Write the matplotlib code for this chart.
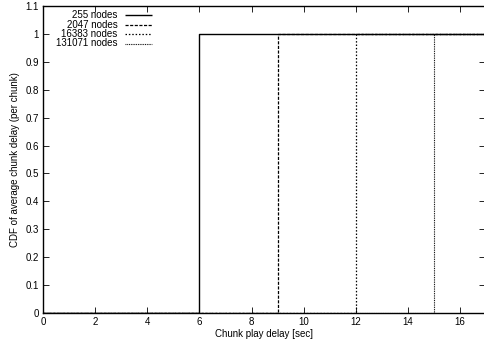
import matplotlib
matplotlib.use("Agg")
import matplotlib.pyplot as plt
import numpy as np

labels = ["255 nodes", "2047 nodes", "16383 nodes", "131071 nodes"]
step_delays = [6, 9, 12, 15]   # seconds at which CDF jumps 0 -> 1
x_start, x_end = 0.0, 17.0
styles = [(0, ()), (0, (2.5, 1.2)), (0, (1.2, 1.5)), (0, (0.8, 0.8))]
widths = [1.0, 0.9, 0.9, 0.8]

plt.rcParams['font.family'] = ['Liberation Sans', 'DejaVu Sans']
fig = plt.figure(figsize=(4.84, 3.51), dpi=100)
ax = fig.add_axes([43/484, 1-313/351, (484-43)/484*1.003, (313-6)/351])

for d, lab, ls, lw in zip(step_delays, labels, styles, widths):
    ax.plot([x_start, d, d, x_end], [0, 0, 1, 1], color='black', linestyle=ls, lw=lw)

ax.set_xlim(0, 16.92*1.003)
ax.set_ylim(0, 1.1)
ax.set_xticks(np.arange(0, 17, 2))
ax.set_yticks(np.round(np.arange(0, 1.11, 0.1), 1))
ax.set_yticklabels(['0', '0.1', '0.2', '0.3', '0.4', '0.5', '0.6', '0.7', '0.8', '0.9', '1', '1.1'])
ax.tick_params(direction='in', top=True, right=True, labelsize=7, length=4, width=0.6, pad=3)
for s in ax.spines.values():
    s.set_linewidth(1.0)
ax.set_xlabel('Chunk play delay [sec]', fontsize=7, labelpad=1)
ax.set_ylabel('CDF of average chunk delay (per chunk)', fontsize=7, labelpad=4)

# legend (gnuplot style: right-aligned text, sample to the right)
tr = ax.transAxes
ys = [15, 24.5, 34, 43.5]
for lab, ls, lw, yp in zip(labels, styles, widths, ys):
    yf = (313 - yp) / 307
    ax.text((117.5-43)/441, yf, lab, transform=tr, ha='right', va='center', fontsize=7)
    ax.plot([(125-43)/441, (152-43)/441], [yf, yf], transform=tr, color='black',
            linestyle=ls, lw=lw, clip_on=False)

fig.savefig('out.png', dpi=100)
